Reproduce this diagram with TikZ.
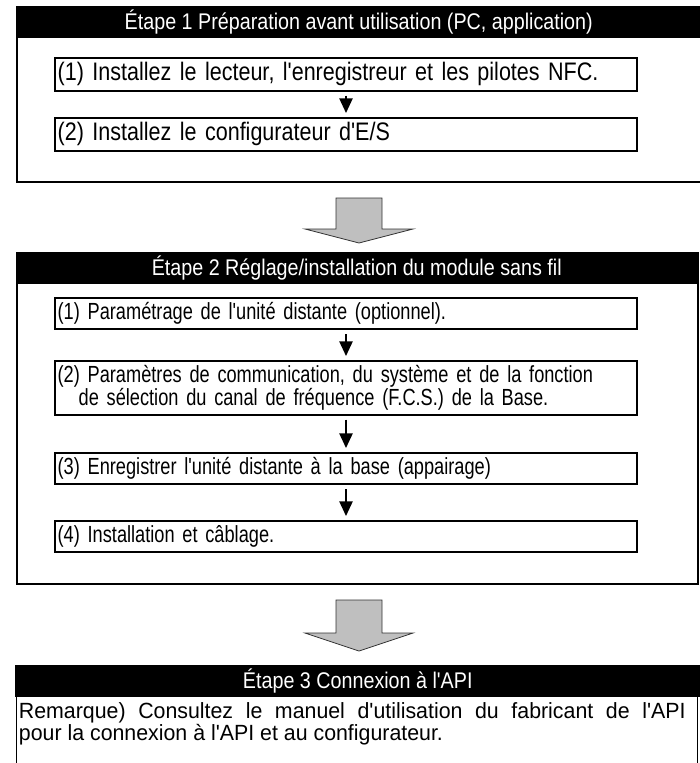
\documentclass[tikz,border=0pt]{standalone}
\usepackage{fontspec}
\setmainfont{Liberation Sans}
\newfontfamily\headfont[FakeStretch=0.87]{Liberation Sans}
\newfontfamily\boxfontA[FakeStretch=0.85]{Liberation Sans}
\newfontfamily\boxfontB[FakeStretch=0.78]{Liberation Sans}
\newfontfamily\notefont[FakeStretch=0.97]{Liberation Sans}
\usepgflibrary{arrows.meta}
\usetikzlibrary{positioning}

\tikzset{
  stepframe/.style={draw, line width=1.5pt, anchor=north west, inner sep=0pt},
  stephead/.style={fill=black, text=white, anchor=north west, inner sep=0pt, font=\headfont\fontsize{17pt}{20pt}\selectfont},
  taskbox/.style={draw, line width=1.5pt, anchor=north west, text width=432.5pt, align=left,
    inner xsep=2pt, minimum height=23.5pt},
  taskA/.style={taskbox, font=\boxfontA\fontsize{19pt}{17pt}\selectfont},
  taskB/.style={taskbox, font=\boxfontB\fontsize{17.5pt}{17pt}\selectfont},
  flow/.style={line width=1.1pt, -{Triangle[width=10pt,length=11pt]}, shorten <=3pt, shorten >=3pt},
  bigarrow/.style={fill=black!25, draw=black!80, line width=0.6pt}
}

\begin{document}
\begin{tikzpicture}[x=0.75pt,y=-0.75pt]
\useasboundingbox (0,0) rectangle (699,763);

% etape 1
\node [stepframe, minimum width=513.75pt, minimum height=131.25pt] (step1) at (16,6) {};
\node [stephead, minimum width=513.75pt, minimum height=24pt] (head1) at (16,6) {Étape 1 Préparation avant utilisation (PC, application)};
\node [taskA] (s1a) at (54,57) {(1) Installez le lecteur, l'enregistreur et les pilotes NFC.};
\node [taskA] (s1b) at (54,117) {(2) Installez le configurateur d'E/S};
\draw [flow] (s1a) -- (s1b);

\fill [bigarrow] (336,198) -- (382,198) -- (382,229) -- (413,229) -- (359,243) -- (305,229) -- (336,229) -- cycle;

% etape 2
\node [stepframe, minimum width=510.75pt, minimum height=248.25pt] (step2) at (16,252) {};
\node [stephead, minimum width=510.75pt, minimum height=24pt] (head2) at (16,252) {Étape 2 Réglage/installation du module sans fil};
\node [taskB] (s2a) at (54,297) {(1) Paramétrage de l'unité distante (optionnel).};
\node [taskB] (s2b) at (54,360) {\mbox{(2) Paramètres de communication, du système et de la fonction}\\\hspace*{0.9em}de sélection du canal de fréquence (F.C.S.) de la Base.};
\node [taskB] (s2c) at (54,452) {(3) Enregistrer l'unité distante à la base (appairage)};
\node [taskB] (s2d) at (54,520) {(4) Installation et câblage.};
\draw [flow] (s2a) -- (s2b);
\draw [flow] (s2b) -- (s2c);
\draw [flow] (s2c) -- (s2d);

\fill [bigarrow] (336,600) -- (382,600) -- (382,633) -- (413,633) -- (359,651) -- (305,633) -- (336,633) -- cycle;

% etape 3
\node [draw, line width=0.6pt, anchor=north west, minimum width=510.75pt, minimum height=60pt, inner sep=0pt] (step3) at (16,695) {};
\node [stephead, minimum width=513.75pt, minimum height=24pt] (head3) at (15,665) {Étape 3 Connexion à l'API};
\node [anchor=north west, text width=500pt, align=justify, inner xsep=2pt, inner ysep=3pt,
  font=\notefont\fontsize{16.5pt}{17pt}\selectfont] (note3) at (16,698)
  {Remarque) Consultez le manuel d'utilisation du fabricant de l'API\linebreak pour la connexion à l'API et au configurateur.};
\end{tikzpicture}
\end{document}
